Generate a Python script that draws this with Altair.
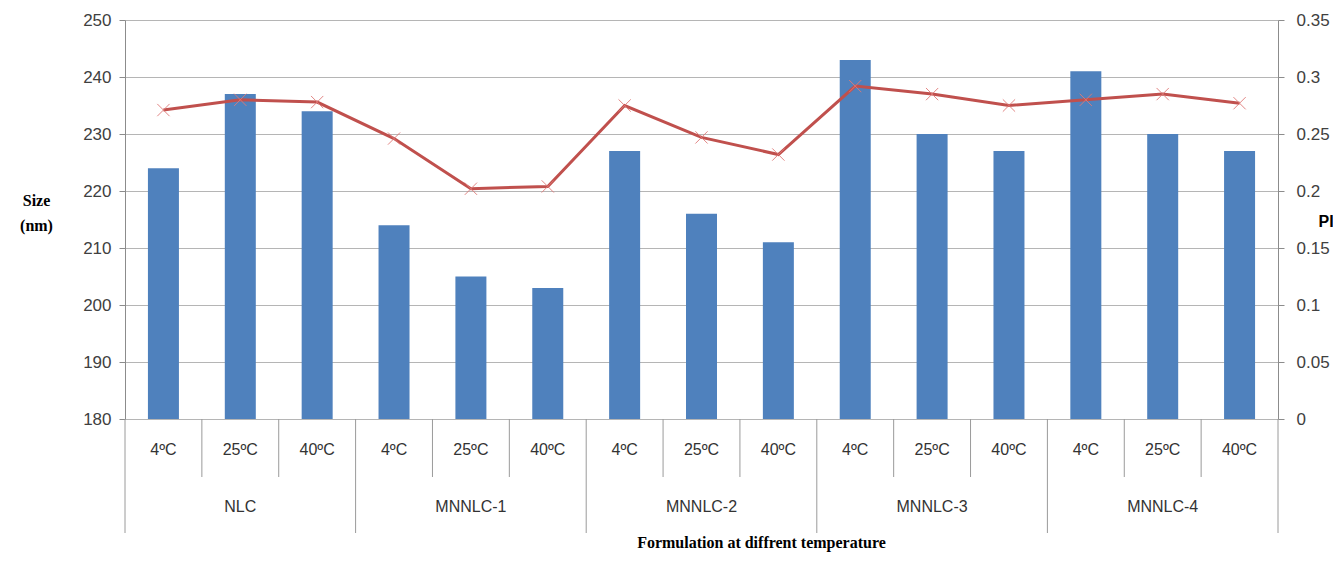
import altair as alt
import pandas as pd

formulations = ["NLC", "MNNLC-1", "MNNLC-2", "MNNLC-3", "MNNLC-4"]
temperatures = ["4ºC", "25ºC", "40ºC"]
size_nm = [224, 237, 234, 214, 205, 203, 227, 216, 211, 243, 230, 227, 241, 230, 227]
pi_vals = [0.271, 0.280, 0.278, 0.246, 0.202, 0.204, 0.275, 0.247, 0.232,
           0.292, 0.285, 0.275, 0.280, 0.285, 0.277]

rows = []
k = 0
for f in formulations:
    for t in temperatures:
        rows.append({"idx": k + 0.5, "formulation": f, "temp": t,
                     "size": size_nm[k], "pi": pi_vals[k]})
        k += 1
df = pd.DataFrame(rows)
groups = pd.DataFrame({"formulation": formulations,
                       "center": [i * 3 + 1.5 for i in range(len(formulations))]})
bounds = pd.DataFrame({"b": list(range(16))})
bounds["long"] = bounds["b"] % 3 == 0

W, H = 1153, 399
xs = alt.Scale(domain=[0, 15], nice=False, zero=False, padding=0)
X = alt.X("idx:Q", scale=xs, axis=None)

bars = alt.Chart(df).mark_bar(size=31, color="#4F81BD").encode(
    x=X,
    y=alt.Y("size:Q", scale=alt.Scale(domain=[180, 250], nice=False, zero=False),
            axis=alt.Axis(values=list(range(180, 251, 10)), grid=True, gridColor="#b5b5b5",
                          domainColor="#8c8c8c", tickColor="#8c8c8c", tickSize=6,
                          labelFont="Liberation Sans", labelFontSize=17, labelColor="#404040",
                          labelPadding=8,
                          title=["Size", "(nm)"], titleAngle=0, titleFont="Liberation Serif",
                          titleFontSize=16, titleFontWeight="bold", titleColor="#000000",
                          titleX=-89, titleY=180, titleAlign="center", titleBaseline="middle",
                          titleLineHeight=25)),
    y2=alt.datum(180),
)

pi_axis = alt.Axis(orient="right", values=[0, 0.05, 0.1, 0.15, 0.2, 0.25, 0.3, 0.35],
                   format="~g", grid=False, domainColor="#8c8c8c", tickColor="#8c8c8c",
                   tickSize=6, labelFont="Liberation Sans", labelFontSize=17,
                   labelColor="#404040", labelPadding=12,
                   title="PI", titleAngle=0, titleFont="Liberation Sans", titleFontSize=16,
                   titleFontWeight="bold", titleColor="#000000", titleX=40, titleY=201,
                   titleAlign="left", titleBaseline="middle")
piscale = alt.Scale(domain=[0, 0.35], nice=False, zero=True)

line = alt.Chart(df).mark_line(color="#C0504D", strokeWidth=3).encode(
    x=X, y=alt.Y("pi:Q", scale=piscale, axis=pi_axis))
pts = alt.Chart(df).mark_point(shape="M-1,-1L1,1M-1,1L1,-1", size=150, filled=False,
                               color="#E07a78", strokeWidth=1, opacity=0.9).encode(
    x=X, y=alt.Y("pi:Q", scale=piscale, axis=None))

temp_text = alt.Chart(df).mark_text(font="Liberation Sans", fontSize=16, color="#333333",
                                    baseline="middle").encode(
    x=X, y=alt.value(H + 31), text="temp:N")
group_text = alt.Chart(groups).mark_text(font="Liberation Sans", fontSize=16, color="#333333",
                                         baseline="middle").encode(
    x=alt.X("center:Q", scale=xs, axis=None), y=alt.value(H + 88), text="formulation:N")
short_rules = alt.Chart(bounds).transform_filter("!datum.long").mark_rule(
    color="#9a9a9a", strokeWidth=1).encode(
    x=alt.X("b:Q", scale=xs, axis=None), y=alt.value(H), y2=alt.value(H + 58))
long_rules = alt.Chart(bounds).transform_filter("datum.long").mark_rule(
    color="#9a9a9a", strokeWidth=1).encode(
    x=alt.X("b:Q", scale=xs, axis=None), y=alt.value(H), y2=alt.value(H + 114))
xtitle = alt.Chart(groups).transform_filter("datum.center == 1.5").mark_text(
    font="Liberation Serif", fontSize=16, fontWeight="bold", color="#000000",
    baseline="middle", text="Formulation at diffrent temperature").encode(
    x=alt.value(W / 2 + 60), y=alt.value(H + 124))

chart = alt.layer(bars, line, pts, temp_text, group_text, short_rules, long_rules, xtitle
                  ).resolve_scale(y="independent").properties(
    width=W, height=H,
    autosize=alt.AutoSizeParams(type="none"),
    padding={"left": 117, "top": 12, "right": 55, "bottom": 134},
).configure_view(stroke=None).configure(background="white")

chart.save("out.html", embed_options={"renderer": "svg", "actions": False})
